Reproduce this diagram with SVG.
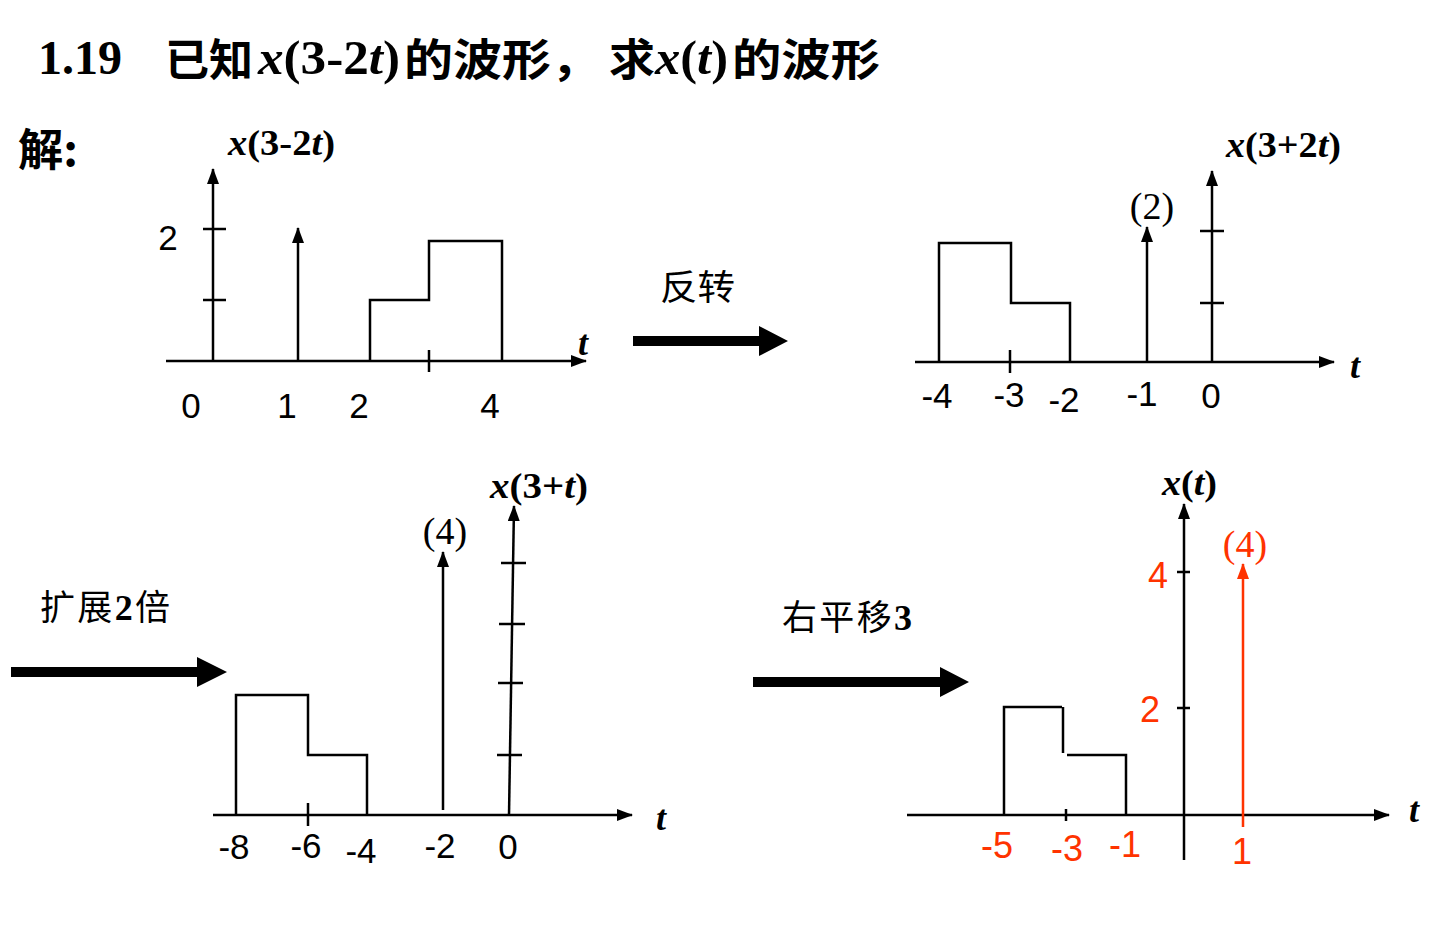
<svg xmlns="http://www.w3.org/2000/svg" width="1440" height="944" viewBox="0 0 1440 944">
<style>
.ln{stroke:#000;stroke-width:2.5;fill:none}
.rd{stroke:#FF3300;stroke-width:2.5;fill:none}
.num{font-family:"Liberation Sans",Arial,sans-serif;font-size:35px;fill:#000;text-anchor:middle}
.rnum{font-family:"Liberation Sans",Arial,sans-serif;font-size:36px;fill:#FF3300;text-anchor:middle}
.tm{font-family:"Liberation Serif","Times New Roman",serif;font-size:38px;fill:#000}
.fn{font-family:"Liberation Serif","Times New Roman",serif;font-size:36px;font-weight:bold;fill:#000}
.it{font-style:italic}
.cn{font-family:"Noto Sans CJK SC","Liberation Serif",sans-serif;font-size:35px;fill:#000}
.ttl{font-family:"Liberation Serif","Noto Sans CJK SC",serif;font-size:48px;font-weight:bold;fill:#000}
.ttlcn{font-family:"Noto Sans CJK SC",sans-serif;font-size:44px;font-weight:bold;fill:#000}
</style>
<defs>
<marker id="ah" markerUnits="userSpaceOnUse" markerWidth="16" markerHeight="12" refX="15" refY="6" orient="auto" viewBox="0 0 16 12">
<path d="M0,0 L16,6 L0,12 z" fill="#000"/>
</marker>
<marker id="ahr" markerUnits="userSpaceOnUse" markerWidth="16" markerHeight="12" refX="15" refY="6" orient="auto" viewBox="0 0 16 12">
<path d="M0,0 L16,6 L0,12 z" fill="#FF3300"/>
</marker>
</defs>
<rect width="1440" height="944" fill="#fff"/>

<g id="title">
<text class="ttl" x="38" y="74">1.19</text>
<text class="ttlcn" x="165" y="76" textLength="88" lengthAdjust="spacingAndGlyphs">已知</text>
<text class="ttl" x="258" y="74" textLength="142" lengthAdjust="spacingAndGlyphs"><tspan class="it">x</tspan>(3-2<tspan class="it">t</tspan>)</text>
<text class="ttlcn" x="404" y="76" textLength="196" lengthAdjust="spacingAndGlyphs">的波形，</text>
<text class="ttlcn" x="609" y="76" textLength="46" lengthAdjust="spacingAndGlyphs">求</text>
<text class="ttl" x="655" y="74" textLength="73" lengthAdjust="spacingAndGlyphs"><tspan class="it">x</tspan>(<tspan class="it">t</tspan>)</text>
<text class="ttlcn" x="732" y="76" textLength="148" lengthAdjust="spacingAndGlyphs">的波形</text>
<text class="ttlcn" x="18" y="166" textLength="60" lengthAdjust="spacingAndGlyphs">解:</text>
</g>

<g id="panel1">
<line class="ln" x1="166" y1="361" x2="586" y2="361" marker-end="url(#ah)"/>
<line class="ln" x1="213" y1="361" x2="213" y2="169" marker-end="url(#ah)"/>
<line class="ln" x1="203" y1="229" x2="226" y2="229"/>
<line class="ln" x1="203" y1="300" x2="226" y2="300"/>
<line class="ln" x1="298" y1="361" x2="298" y2="228" marker-end="url(#ah)"/>
<polyline class="ln" points="370,361 370,300 429,300 429,241 502,241 502,361"/>
<line class="ln" x1="429" y1="350" x2="429" y2="372"/>
<text class="num" x="168" y="250">2</text>
<text class="num" x="191" y="418">0</text>
<text class="num" x="287" y="418">1</text>
<text class="num" x="359" y="418">2</text>
<text class="num" x="490" y="418">4</text>
<text class="fn it" x="583" y="355" text-anchor="middle">t</text>
<text class="fn" x="228" y="155" textLength="107" lengthAdjust="spacingAndGlyphs"><tspan class="it">x</tspan>(3-2<tspan class="it">t</tspan>)</text>
</g>

<g id="panel2">
<line class="ln" x1="915" y1="362" x2="1334" y2="362" marker-end="url(#ah)"/>
<line class="ln" x1="1212" y1="362" x2="1212" y2="171" marker-end="url(#ah)"/>
<line class="ln" x1="1200" y1="231" x2="1224" y2="231"/>
<line class="ln" x1="1200" y1="303" x2="1224" y2="303"/>
<line class="ln" x1="1147" y1="362" x2="1147" y2="227" marker-end="url(#ah)"/>
<polyline class="ln" points="939,362 939,243 1011,243 1011,303 1070,303 1070,362"/>
<line class="ln" x1="1010" y1="350" x2="1010" y2="373"/>
<text class="num" x="937" y="408">-4</text>
<text class="num" x="1009" y="407">-3</text>
<text class="num" x="1064" y="412">-2</text>
<text class="num" x="1142" y="406">-1</text>
<text class="num" x="1211" y="408">0</text>
<text class="tm" x="1152" y="219" text-anchor="middle">(2)</text>
<text class="fn it" x="1355" y="378" text-anchor="middle">t</text>
<text class="fn" x="1226" y="157" textLength="115" lengthAdjust="spacingAndGlyphs"><tspan class="it">x</tspan>(3+2<tspan class="it">t</tspan>)</text>
</g>

<g id="panel3">
<line class="ln" x1="213" y1="815" x2="632" y2="815" marker-end="url(#ah)"/>
<line class="ln" x1="509" y1="815" x2="514" y2="506" marker-end="url(#ah)"/>
<line class="ln" x1="501" y1="563" x2="526" y2="563"/>
<line class="ln" x1="499" y1="624" x2="525" y2="624"/>
<line class="ln" x1="498" y1="683" x2="523" y2="683"/>
<line class="ln" x1="497" y1="755" x2="522" y2="755"/>
<line class="ln" x1="443" y1="810" x2="443" y2="552" marker-end="url(#ah)"/>
<polyline class="ln" points="236,815 236,695 308,695 308,755 367,755 367,815"/>
<line class="ln" x1="308" y1="803" x2="308" y2="826"/>
<text class="num" x="234" y="859">-8</text>
<text class="num" x="306" y="858">-6</text>
<text class="num" x="361" y="863">-4</text>
<text class="num" x="440" y="858">-2</text>
<text class="num" x="508" y="859">0</text>
<text class="tm" x="445" y="544" text-anchor="middle">(4)</text>
<text class="fn it" x="661" y="830" text-anchor="middle">t</text>
<text class="fn" x="490" y="498" textLength="98" lengthAdjust="spacingAndGlyphs"><tspan class="it">x</tspan>(3+<tspan class="it">t</tspan>)</text>
</g>

<g id="panel4">
<line class="ln" x1="907" y1="815" x2="1389" y2="815" marker-end="url(#ah)"/>
<line class="ln" x1="1184" y1="860" x2="1184" y2="504" marker-end="url(#ah)"/>
<line class="ln" x1="1177" y1="572" x2="1190" y2="572"/>
<line class="ln" x1="1177" y1="708" x2="1190" y2="708"/>
<polyline class="ln" points="1004,815 1004,707 1062,707"/>
<line class="ln" x1="1063" y1="707" x2="1063" y2="753"/>
<polyline class="ln" points="1067,755 1126,755 1126,815"/>
<line class="ln" x1="1066" y1="809" x2="1066" y2="821"/>
<line class="rd" x1="1243" y1="827" x2="1243" y2="564" marker-end="url(#ahr)"/>
<text class="rnum" x="1158" y="588">4</text>
<text class="rnum" x="1150" y="722">2</text>
<text class="tm" x="1245" y="557" text-anchor="middle" style="fill:#FF3300">(4)</text>
<text class="rnum" x="997" y="858">-5</text>
<text class="rnum" x="1067" y="861">-3</text>
<text class="rnum" x="1125" y="857">-1</text>
<text class="rnum" x="1242" y="864">1</text>
<text class="fn it" x="1414" y="822" text-anchor="middle">t</text>
<text class="fn" x="1162" y="495" textLength="55" lengthAdjust="spacingAndGlyphs"><tspan class="it">x</tspan>(<tspan class="it">t</tspan>)</text>
</g>

<g id="connectors">
<polygon points="633,336 759,336 759,326 788,341 759,356 759,346 633,346" fill="#000"/>
<polygon points="11,667 197,667 197,657 227,672 197,687 197,677 11,677" fill="#000"/>
<polygon points="753,677 940,677 940,667 969,682 940,697 940,687 753,687" fill="#000"/>
<text class="cn" x="660" y="300" textLength="75" lengthAdjust="spacingAndGlyphs">反转</text>
<text class="cn" x="40" y="620" textLength="130" lengthAdjust="spacing"><tspan>扩展</tspan><tspan class="fn" style="font-size:36px">2</tspan><tspan>倍</tspan></text>
<text class="cn" x="782" y="630" textLength="130" lengthAdjust="spacing"><tspan>右平移</tspan><tspan class="fn" style="font-size:36px">3</tspan></text>
</g>
</svg>
